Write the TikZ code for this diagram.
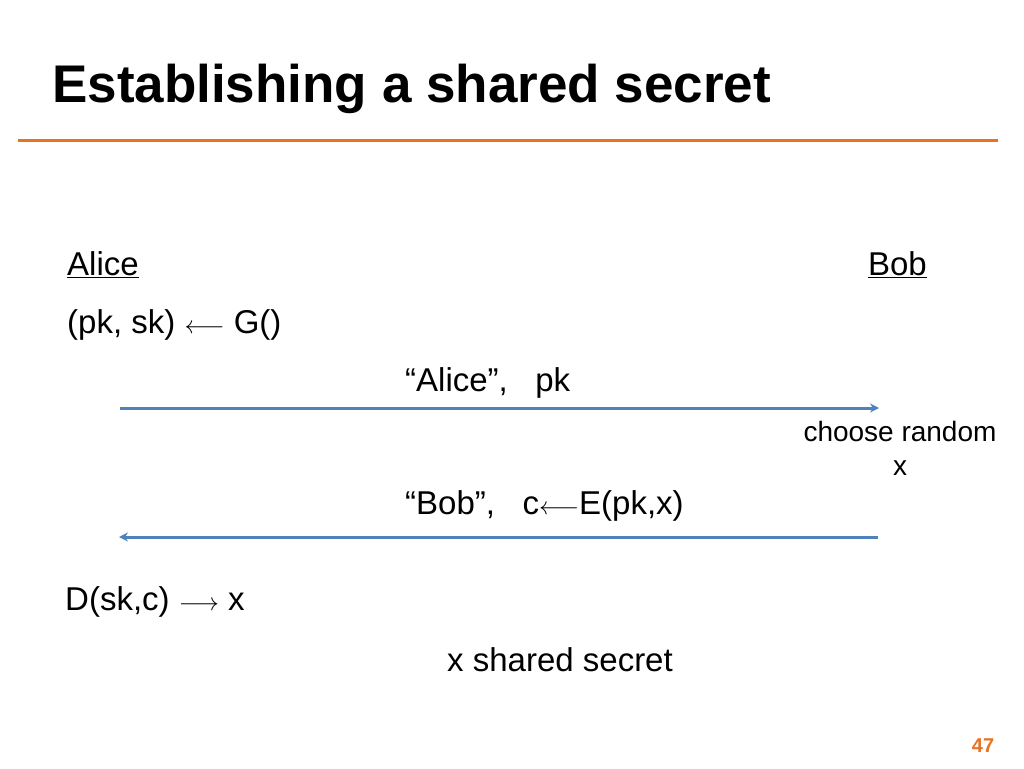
\documentclass[tikz,border=0pt]{standalone}
\usepackage{fontspec}
\setmainfont{Liberation Sans}
\usetikzlibrary{positioning}
\usetikzlibrary{arrows.meta}
\definecolor{slideorange}{RGB}{232,114,32}
\definecolor{arrowblue}{RGB}{79,129,189}
\begin{document}
\begin{tikzpicture}[x=1pt,y=-1pt,>={Stealth[length=9pt,width=9pt]},
	       body/.style={anchor=west, inner sep=0pt, font=\fontsize{33}{36}\selectfont},
	       msg/.style={->, draw=arrowblue, line width=3pt, shorten >=1pt}]
	      \useasboundingbox (0,0) rectangle (1024,768);

	      \node[anchor=base west, inner sep=0pt, font=\fontsize{53}{56}\selectfont\bfseries] (title) at (52,102) {Establishing a shared secret};
	      \draw[slideorange, line width=3pt] (18,140) -- (998,140);

	      \node[body] (alice) at (67,265) {\underline{Alice}};
	      \node[body, anchor=east] (bob) at (927,265) {\underline{Bob}};
	      \node[body] (keygen) at (67,325) {(pk, sk) $\longleftarrow$ G()};
	      \node[body] (msg1) at (405,383) {“Alice”,\ \ \ pk};
	      \coordinate (a1) at (120,408);
	      \coordinate (b1) at (880,408);
	      \draw[msg] (a1) -- (b1);
	      \node[align=center, inner sep=0pt, font=\fontsize{28}{34}\selectfont] (choose) at (900,448) {choose random\\x};
	      \node[body] (msg2) at (405,506) {“Bob”,\ \ \ c$\longleftarrow$E(pk,x)};
	      \coordinate (b2) at (878,537);
	      \coordinate (a2) at (118,537);
	      \draw[msg] (b2) -- (a2);
	      \node[body] (decrypt) at (65,602) {D(sk,c) $\longrightarrow$ x};
	      \node[body] (shared) at (447,660) {x shared secret};
	      \node[inner sep=0pt, text=slideorange, font=\fontsize{20}{22}\selectfont\bfseries] (page) at (983,746) {47};
	    \end{tikzpicture}
\end{document}
